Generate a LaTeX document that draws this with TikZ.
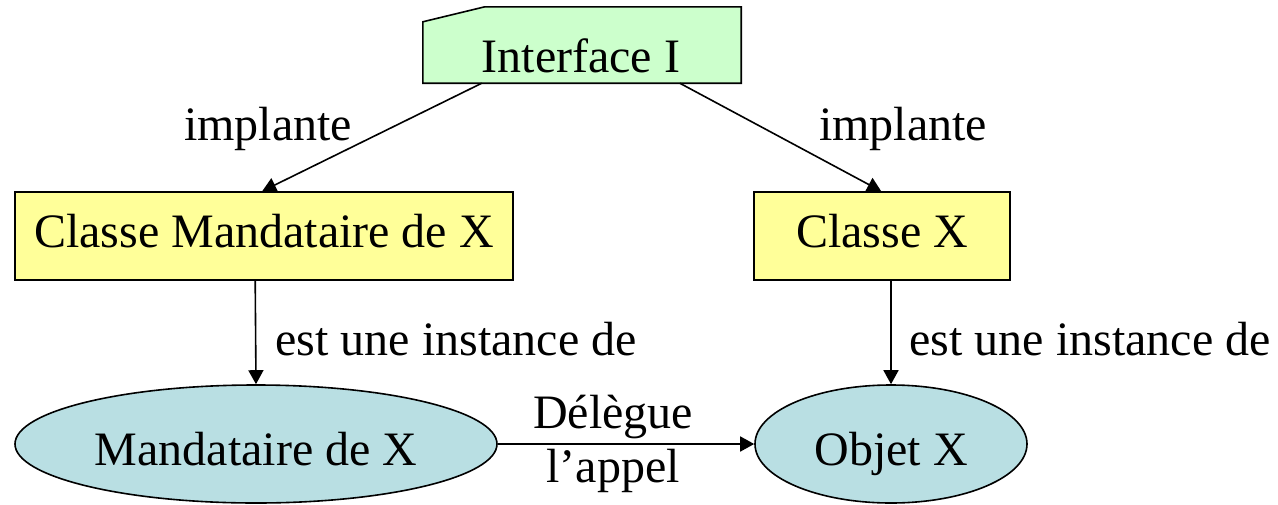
\documentclass[tikz,border=0pt]{standalone}
\usepackage{fontspec}
\setmainfont{Liberation Serif}
\usetikzlibrary{shapes.geometric,arrows.meta,calc}
\definecolor{ifgreen}{HTML}{CCFFCC}
\definecolor{clyellow}{HTML}{FFFF99}
\definecolor{objblue}{HTML}{B9DFE3}
\begin{document}
\begin{tikzpicture}[x=1pt,y=-1pt,
  every node/.style={font=\fontsize{48}{56}\selectfont, inner sep=0pt},
  classbox/.style={draw, line width=1.6pt, fill=clyellow, rectangle, minimum height=88pt,
    text height=22pt, text depth=0pt},
  objell/.style={draw, line width=1.6pt, fill=objblue, ellipse, minimum height=118pt,
    text height=42pt, text depth=0pt},
  link/.style={line width=1.6pt, -{Triangle[width=15pt,length=14pt]}},
  lbl/.style={anchor=base}]
\useasboundingbox (0,0) rectangle (1278,504);
% Interface
\node[minimum width=318pt, minimum height=76pt] (I) at (582,45) {};
\filldraw[line width=1.6pt, fill=ifgreen]
  ($(I.north west)+(0,15)$) -- ($(I.north west)+(62,0)$) -- (I.north east)
  -- (I.south east) -- (I.south west) -- cycle;
\node[lbl] (It) at (581,72) {Interface I};
% classes
\node[classbox, minimum width=498pt] (CM) at (264,236) {Classe Mandataire de X};
\node[classbox, minimum width=256pt] (CX) at (882,236) {Classe X};
% objects
\node[objell, minimum width=482pt] (OM) at (256,444) {Mandataire de X};
\node[objell, minimum width=272pt] (OX) at (891,444) {Objet X};
% connectors
\draw[link] ($(I.south west)+(59,0)$) -- ($(CM.north west)+(248,0)$);
\draw[link] ($(I.south west)+(257,0)$) -- ($(CX.north west)+(128,0)$);
\draw[link] ($(CM.south west)+(241,0)$) -- (OM.north);
\draw[link] (CX.south -| OX.north) -- (OX.north);
\draw[link] (OM.east) -- (OX.west);
% labels
\node[lbl] (l1) at (268,140) {implante};
\node[lbl] (l2) at (903,140) {implante};
\node[lbl] (l3) at (456,355) {est une instance de};
\node[lbl] (l4) at (1090,355) {est une instance de};
\node[lbl] (l5) at (613,428) {Délègue};
\node[lbl] (l6) at (613,482) {l’appel};
\end{tikzpicture}
\end{document}
